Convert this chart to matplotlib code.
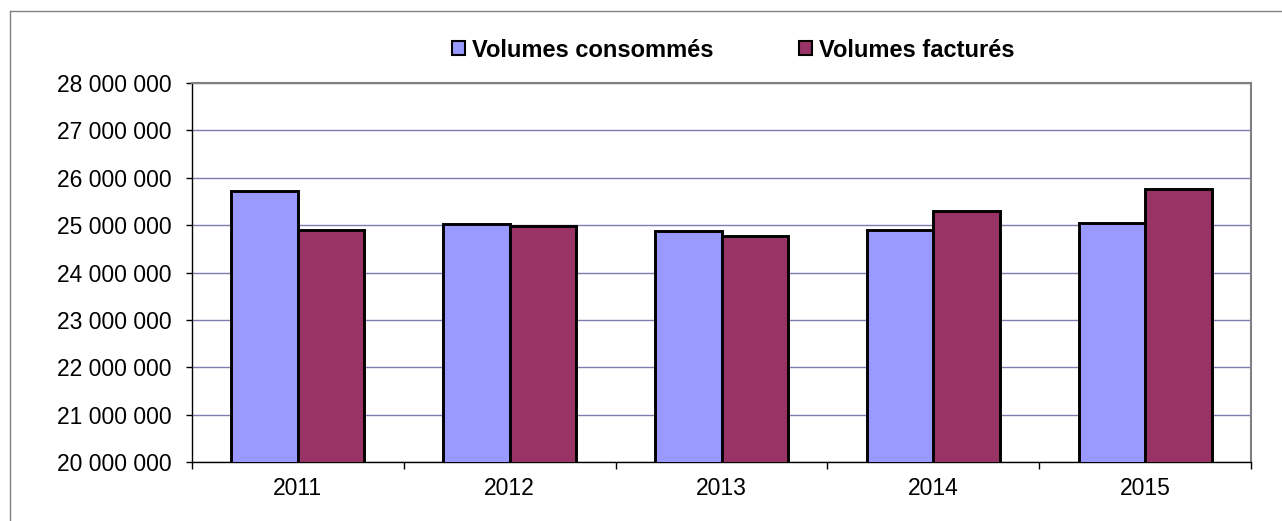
import numpy as np
import matplotlib.pyplot as plt
from matplotlib.lines import Line2D
from matplotlib.ticker import FuncFormatter

# Données
annees = ["2011", "2012", "2013", "2014", "2015"]
volumes_consommes = [25725000, 25030000, 24870000, 24900000, 25040000]
volumes_factures = [24890000, 24980000, 24760000, 25290000, 25760000]

plt.rcParams['font.family'] = ['Liberation Sans', 'DejaVu Sans']

def format_milliers(v, pos):
    return f"{int(v):,}".replace(",", " ")

fig = plt.figure(figsize=(12.82, 5.21), dpi=100)
ax = fig.add_axes([192 / 1282, 1 - 462 / 521, (1251 - 192) / 1282, (462 - 83) / 521])

x = np.arange(len(annees))
largeur = 0.314
b1 = ax.bar(x - largeur / 2, volumes_consommes, largeur, color='#9999FF',
            edgecolor='black', linewidth=2.1, label='Volumes consommés', zorder=3)
b2 = ax.bar(x + largeur / 2, volumes_factures, largeur, color='#993366',
            edgecolor='black', linewidth=2.1, label='Volumes facturés', zorder=3)

ax.set_ylim(20000000, 28000000)
ax.set_xlim(-0.5, len(annees) - 0.5)
ax.set_yticks(np.arange(20000000, 28000001, 1000000))
ax.yaxis.set_major_formatter(FuncFormatter(format_milliers))
ax.yaxis.grid(True, color='#7d7db0', linewidth=1, zorder=0)

ax.set_xticks(x)
ax.set_xticklabels(annees)
ax.set_xticks(np.arange(-0.5, len(annees), 1), minor=True)
ax.tick_params(axis='x', which='major', length=0, pad=11, labelsize=16.5)
ax.tick_params(axis='x', which='minor', length=5, width=1, direction='out')
ax.tick_params(axis='y', length=4.5, width=1, direction='out', pad=10, labelsize=16.5)

for cote in ['top', 'right']:
    ax.spines[cote].set_color('#808080')
    ax.spines[cote].set_linewidth(1.5)
for cote in ['left', 'bottom']:
    ax.spines[cote].set_color('black')
    ax.spines[cote].set_linewidth(1)

leg = fig.legend(handles=[b1, b2], loc='center', bbox_to_anchor=(0.572, 0.904),
                 ncol=2, frameon=False, handlelength=0.55, handleheight=0.55,
                 handletextpad=0.3, columnspacing=3.6,
                 prop={'weight': 'bold', 'size': 17})
for h in leg.legend_handles:
    h.set_linewidth(1.5)

# Cadre extérieur
fig.add_artist(Line2D([10 / 1282, 10 / 1282], [0, 1 - 11 / 521], transform=fig.transFigure,
                      color='#808080', linewidth=1))
fig.add_artist(Line2D([10 / 1282, 1], [1 - 11 / 521, 1 - 11 / 521], transform=fig.transFigure,
                      color='#808080', linewidth=1))

fig.savefig("out.png", dpi=100)
